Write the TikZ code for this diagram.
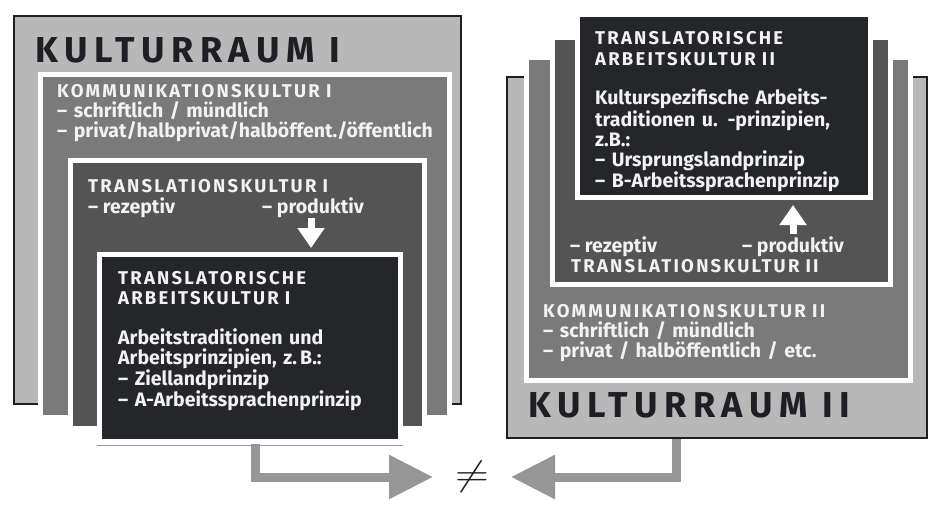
\documentclass[tikz,border=0pt]{standalone}
\usepackage{fontspec}
\setmainfont{Fira Sans}
\newfontfamily\sperrschrift[LetterSpace=12]{Fira Sans}
\newfontfamily\breitschrift[LetterSpace=18]{Fira Sans}
\usetikzlibrary{fit, arrows.meta}
\definecolor{hellgrau}{HTML}{B8B8B8}
\definecolor{mittelgrau}{HTML}{7A7A7A}
\definecolor{dunkelgrau}{HTML}{545454}
\definecolor{fastschwarz}{HTML}{24262A}
\definecolor{pfeilgrau}{HTML}{969696}
\definecolor{kreide}{HTML}{F2F2F2}
\definecolor{tinte}{HTML}{1E1F24}

\begin{document}
\begin{tikzpicture}[x=1pt, y=-1pt,
	raum/.style={draw=tinte, line width=2pt, fill=hellgrau, inner sep=0pt},
	kasten/.style={draw=white, line width=5pt, inner sep=0pt},
	titel/.style={anchor=base west, inner sep=0pt, text=tinte, font=\breitschrift\bfseries\fontsize{36}{36}\selectfont},
	kopf/.style={anchor=base west, inner sep=0pt, text=kreide, text width=400pt, font=\sperrschrift\bfseries\fontsize{18.5}{20.5}\selectfont},
	inhalt/.style={anchor=base west, inner sep=0pt, text=kreide, text width=400pt, font=\bfseries\fontsize{19.5}{20}\selectfont},
	grauerpfeil/.style={draw=pfeilgrau, line width=9pt, shorten >=39pt, -{Triangle[length=44pt, width=42pt]}},
	weisserpfeil/.style={draw=white, line width=7pt, -{Triangle[length=20pt, width=26pt]}}]
		\useasboundingbox[fill=white](0, 0) rectangle (933, 505);
		% Kulturraum I
		\node[raum, fit={(14, 16) (461, 404)}](kr1){};
		\node[titel] (kr1titel) at(35, 63){KULTURRAUM I};
		\node[kasten, fill=mittelgrau, fit={(40.5, 74.5) (449.5, 417.5)}](kk1){};
		\node[inhalt] (kk1text) at(57, 98){{\sperrschrift\fontsize{18.5}{20}\selectfont KOMMUNIKATIONSKULTUR I}\\– schriftlich / mündlich\\– privat/halbprivat/halböffent./öffentlich};
		\node[kasten, fill=dunkelgrau, fit={(70.5, 160.5) (424.5, 428.5)}](tk1){};
		\node[kopf] (tk1titel) at(88, 192){TRANSLATIONSKULTUR I};
		\node[inhalt, text width=] (rez1) at(88, 213){– rezeptiv};
		\node[inhalt, text width=] (prod1) at(262, 213){– produktiv};
		\node[kasten, fill=fastschwarz, fit={(99.5, 254.5) (400.5, 441.5)}](tak1){};
		\node[kopf] (tak1titel) at(118, 284){TRANSLATORISCHE\\ARBEITSKULTUR I};
		\node[inhalt] (tak1text) at(118, 344){Arbeitstraditionen und\\Arbeitsprinzipien, z.\,B.:\\– Ziellandprinzip\\– A-Arbeitssprachenprinzip};
		\draw[pfeilgrau, line width=1pt]([yshift=-1pt]tak1.south west)--([yshift=-1pt]tak1.south east);
		\draw[weisserpfeil, shorten >=4pt]([xshift=-2pt]prod1.south)--([xshift=-2pt]prod1.south |- tak1.north);
		% Kulturraum II
		\node[raum, fit={(507, 77) (927, 438)}](kr2){};
		\node[titel] (kr2titel) at(528, 417){KULTURRAUM II};
		\node[kasten, fill=mittelgrau, fit={(526.5, 57.5) (910.5, 380.5)}](kk2){};
		\node[inhalt] (kk2text) at(543, 317){{\sperrschrift\fontsize{18.5}{20}\selectfont KOMMUNIKATIONSKULTUR II}\\– schriftlich / mündlich\\– privat / halböffentlich / etc.};
		\node[kasten, fill=dunkelgrau, fit={(552.5, 37.5) (890.5, 284.5)}](tk2){};
		\node[inhalt, text width=] (rez2) at(570, 252){– rezeptiv};
		\node[inhalt, text width=] (prod2) at(742, 252){– produktiv};
		\node[kopf] (tk2titel) at(571, 272){TRANSLATIONSKULTUR II};
		\node[kasten, fill=fastschwarz, fit={(577.5, 14.5) (870.5, 197.5)}](tak2){};
		\node[kopf] (tak2titel) at(595, 45){TRANSLATORISCHE\\ARBEITSKULTUR II};
		\node[inhalt] (tak2text) at(595, 105){Kulturspezifische Arbeits-\\traditionen u. -prinzipien,\\z.B.:\\– Ursprungslandprinzip\\– B-Arbeitssprachenprinzip};
		\draw[weisserpfeil, shorten >=5pt]([yshift=2pt]prod2.north)--(prod2.north |- tak2.south);
		% Vergleich
		\node[inner sep=0pt, xscale=4.4, yscale=3.5, text=tinte] (ungleich) at(472, 477){$\neq$};
		\draw[grauerpfeil]([xshift=5pt]tak1.south)|-(ungleich.center);
		\draw[grauerpfeil]([xshift=-41pt]kr2.south)|-(ungleich.center);
	\end{tikzpicture}
\end{document}
